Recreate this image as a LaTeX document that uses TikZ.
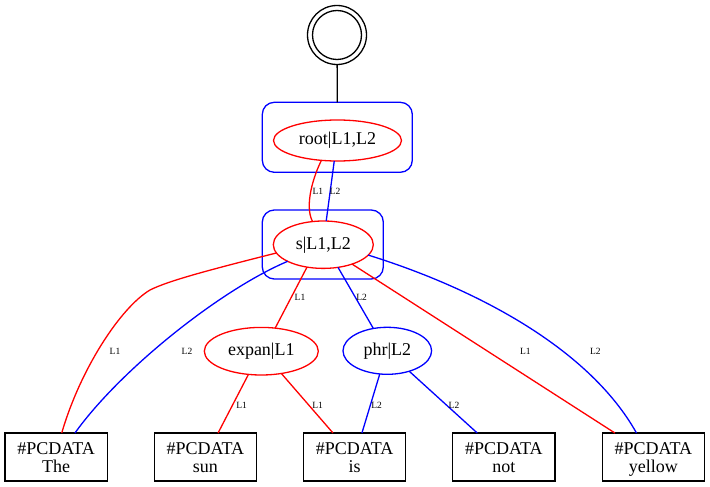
\documentclass[tikz,border=0pt]{standalone}
\usepackage{fontspec}
\setmainfont{Liberation Serif}
\usetikzlibrary{shapes.geometric}
\begin{document}
\begin{tikzpicture}[x=1pt,y=-1pt,
  every node/.style={inner sep=0pt, outer sep=0pt},
  lw/.style={line width=1.3pt},
  ell/.style={ellipse, draw, lw, font=\fontsize{18}{21}\selectfont},
  redell/.style={ell, draw=red},
  blueell/.style={ell, draw=blue},
  clus/.style={rectangle, draw=blue, lw, rounded corners=12pt},
  datab/.style={rectangle, draw, lw, minimum width=102.3pt, minimum height=48pt, align=center, font=\fontsize{18}{18.7}\selectfont},
  ring/.style={circle, draw, lw},
  redE/.style={draw=red, lw},
  blueE/.style={draw=blue, lw},
  lbl/.style={font=\fontsize{9.5}{11}\selectfont}
]
\useasboundingbox (0,0) rectangle (710,487);

% clusters
\node[clus, minimum width=150pt, minimum height=70pt] (rootbox) at (337.3,137.3) {};
\node[clus, minimum width=121pt, minimum height=69pt] (sbox) at (322.8,244.5) {};

% start state
\node[ring, minimum size=59pt] (st) at (337,35) {};
\node[ring, minimum size=49pt] (sti) at (337,35) {};

% ellipses
\node[redell, minimum width=128pt, minimum height=41pt] (root) at (337.5,140.5) {root|L1,L2};
\node[redell, minimum width=100pt, minimum height=47.4pt] (s) at (323.3,244.7) {s|L1,L2};
\node[redell, minimum width=114pt, minimum height=47.6pt] (expan) at (261.3,351.2) {expan|L1};
\node[blueell, minimum width=88.6pt, minimum height=47pt] (phr) at (387.3,350.8) {phr|L2};

% data boxes
\node[datab] (nThe) at (56.2,457) {\rule{0pt}{16.6pt}\#PCDATA\\\vphantom{y}The};
\node[datab] (nSun) at (205.3,457) {\rule{0pt}{16.6pt}\#PCDATA\\\vphantom{y}sun};
\node[datab] (nIs) at (354.6,457) {\rule{0pt}{16.6pt}\#PCDATA\\\vphantom{y}is};
\node[datab] (nNot) at (503.9,457) {\rule{0pt}{16.6pt}\#PCDATA\\\vphantom{y}not};
\node[datab] (nYellow) at (653.3,457) {\rule{0pt}{16.6pt}\#PCDATA\\\vphantom{y}yellow};

% edges
\draw[lw] (st) -- (rootbox.north);
\draw[redE] (root.231) .. controls (314,175) and (304,205) .. (s.115);
\draw[blueE] (root.261) -- (s.83);
\draw[redE] (s.190) .. controls (205,271) and (168,281) .. (150,290)
                    .. controls (120,308) and (80,370) .. (nThe.77);
\draw[blueE] (s.205) .. controls (220,290) and (120,370) .. (nThe.52);
\draw[redE] (s.234) -- (expan.59);
\draw[blueE] (s.303) -- (phr.122);
\draw[redE] (s.326) -- (nYellow.148);
\draw[blueE] (s.347) .. controls (480,290) and (590,350) .. (nYellow.125);
\draw[redE] (expan.241) -- (nSun.62);
\draw[redE] (expan.312) -- (nIs.132);
\draw[blueE] (phr.252) -- (nIs.73);
\draw[blueE] (phr.317) -- (nNot.138);

% edge labels
\node[lbl] (l1) at (317.8,191.7) {L1};
\node[lbl] (l2) at (335,191.7) {L2};
\node[lbl] (l3) at (115,351.7) {L1};
\node[lbl] (l4) at (187,351.7) {L2};
\node[lbl] (l5) at (300,297.3) {L1};
\node[lbl] (l6) at (361.7,297.3) {L2};
\node[lbl] (l7) at (525.3,351.7) {L1};
\node[lbl] (l8) at (595.3,351.7) {L2};
\node[lbl] (l9) at (241.7,405) {L1};
\node[lbl] (l10) at (317.7,405) {L1};
\node[lbl] (l11) at (376.7,405) {L2};
\node[lbl] (l12) at (454,405) {L2};
\end{tikzpicture}
\end{document}
